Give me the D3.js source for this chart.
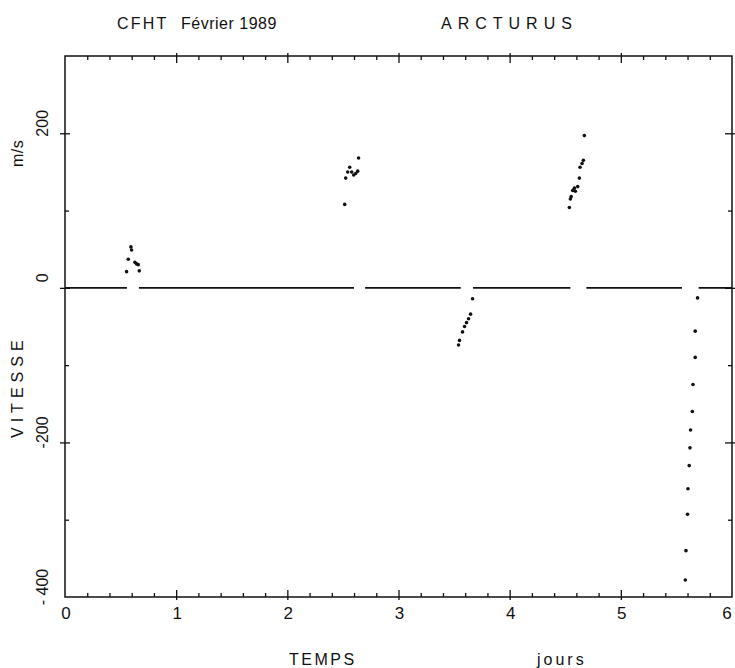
<!DOCTYPE html>
<html><head><meta charset="utf-8">
<script src="https://cdn.jsdelivr.net/npm/d3@7"></script>
<style>
html,body{margin:0;padding:0;background:#fff;}
svg{display:block;}
text{font-family:"Liberation Sans",Arial,sans-serif;fill:#111;}
.axis path{display:none;}
.axis line{stroke:#111;stroke-width:1.3;}
</style></head>
<body>
<script>
// Data: time (days) and velocity (m/s)
const night1T = [0.593,0.599,0.569,0.629,0.644,0.659,0.554,0.668];
const night1V = [53,49,37,33,31,30,21,22];
const night2T = [2.516,2.525,2.543,2.561,2.579,2.597,2.615,2.633,2.641];
const night2V = [108,142,150,156,150,146,148,151,168];
const night3T = [3.540,3.549,3.576,3.594,3.612,3.630,3.648,3.666];
const night3V = [-74,-68,-57,-50,-45,-40,-34,-14];
const night4T = [4.672,4.663,4.651,4.633,4.627,4.612,4.582,4.567,4.591,4.553,4.546,4.537];
const night4V = [197,165,161,156,142,131,129,126,125,118,115,104];
const night5T = [5.690,5.669,5.669,5.649,5.643,5.627,5.622,5.615,5.604,5.600,5.586,5.580];
const night5V = [-13,-56,-90,-125,-160,-184,-207,-230,-260,-293,-340,-378];
// zero reference line segments (start, end in days)
const zeroStart = [0.00,0.665,2.70,3.67,4.69,5.70];
const zeroEnd   = [0.557,2.60,3.56,4.546,5.55,6.0];
// ticks
const xMajor = [0,1,2,3,4,5,6];
const xMinor = d3.range(0,30).map(i=>i*0.2).filter(v=>Math.abs(v-Math.round(v))>1e-6);
const yMajor = [200,0,-200,-400];
const yLabels = ["200","0","-200","- 400"];
const yMinor = [100,-100,-300];
const xLabels = ["0","1","2","3","4","5","6"];

const W=735,H=668;
const svg=d3.select("body").append("svg").attr("width",W).attr("height",H);
const x=d3.scaleLinear().domain([0,6]).range([65,732]);
const y=d3.scaleLinear().domain([-400,300]).range([597,56]);

// frame
svg.append("rect").attr("x",x(0)).attr("y",y(300)).attr("width",x(6)-x(0)).attr("height",y(-400)-y(300))
  .attr("fill","none").attr("stroke","#111").attr("stroke-width",1.5);

function tickAxis(axisFn, scale, vals, size, tx, ty){
  return svg.append("g").attr("class","axis").attr("transform",`translate(${tx},${ty})`)
    .call(axisFn(scale).tickValues(vals).tickSize(size).tickFormat(""));
}
tickAxis(d3.axisBottom,x,xMinor,-4,0,y(-400));
tickAxis(d3.axisBottom,x,xMajor.slice(1,6),-10,0,y(-400)+3);
tickAxis(d3.axisTop,x,xMinor,-4,0,y(300));
tickAxis(d3.axisTop,x,xMajor.slice(1,6),-10,0,y(300)-3);
tickAxis(d3.axisLeft,y,yMinor,-4,x(0),0);
tickAxis(d3.axisLeft,y,[200,0,-200],-10,x(0)-5,0);
tickAxis(d3.axisRight,y,yMinor,-4,x(6),0);
tickAxis(d3.axisRight,y,[200,0,-200],-10,x(6)+3,0);

// x tick labels
svg.append("g").selectAll("text").data(xMajor).join("text")
  .attr("x",d=>Math.min(x(d)+1,727)).attr("y",619).attr("text-anchor","middle")
  .attr("font-size",17).text((d,i)=>xLabels[i]);

// y tick labels, rotated
svg.append("g").selectAll("text").data(yMajor).join("text")
  .attr("transform",d=>`translate(48,${y(d)-10}) rotate(-90)`)
  .attr("text-anchor","middle").attr("font-size",16).text((d,i)=>yLabels[i]);

// zero line
svg.append("g").selectAll("line").data(zeroStart).join("line")
  .attr("x1",d=>x(d)).attr("x2",(d,i)=>x(zeroEnd[i])).attr("y1",y(0)).attr("y2",y(0))
  .attr("stroke","#111").attr("stroke-width",1.6);

// points
const nights=[[night1T,night1V],[night2T,night2V],[night3T,night3V],[night4T,night4V],[night5T,night5V]];
const pts=[];
nights.forEach(([t,v])=>t.forEach((tt,i)=>pts.push([tt,v[i]])));
svg.append("g").selectAll("circle").data(pts).join("circle")
  .attr("cx",d=>x(d[0])).attr("cy",d=>y(d[1])).attr("r",1.8).attr("fill","#111");

// titles
svg.append("text").attr("x",117).attr("y",29).attr("font-size",16).attr("letter-spacing",2.2).text("CFHT");
svg.append("text").attr("x",181).attr("y",29).attr("font-size",16).attr("letter-spacing",0.5).text("Février 1989");
svg.append("text").attr("x",441).attr("y",29).attr("font-size",16).attr("letter-spacing",6).text("ARCTURUS");
svg.append("text").attr("x",289).attr("y",665).attr("font-size",16).attr("letter-spacing",2.5).text("TEMPS");
svg.append("text").attr("x",537).attr("y",665).attr("font-size",16).attr("letter-spacing",3).text("jours");
svg.append("text").attr("transform","translate(23,438) rotate(-90)").attr("font-size",16).attr("letter-spacing",5).text("VITESSE");
svg.append("text").attr("transform","translate(23,167) rotate(-90)").attr("font-size",16).attr("letter-spacing",0.5).text("m/s");
</script>
</body></html>
